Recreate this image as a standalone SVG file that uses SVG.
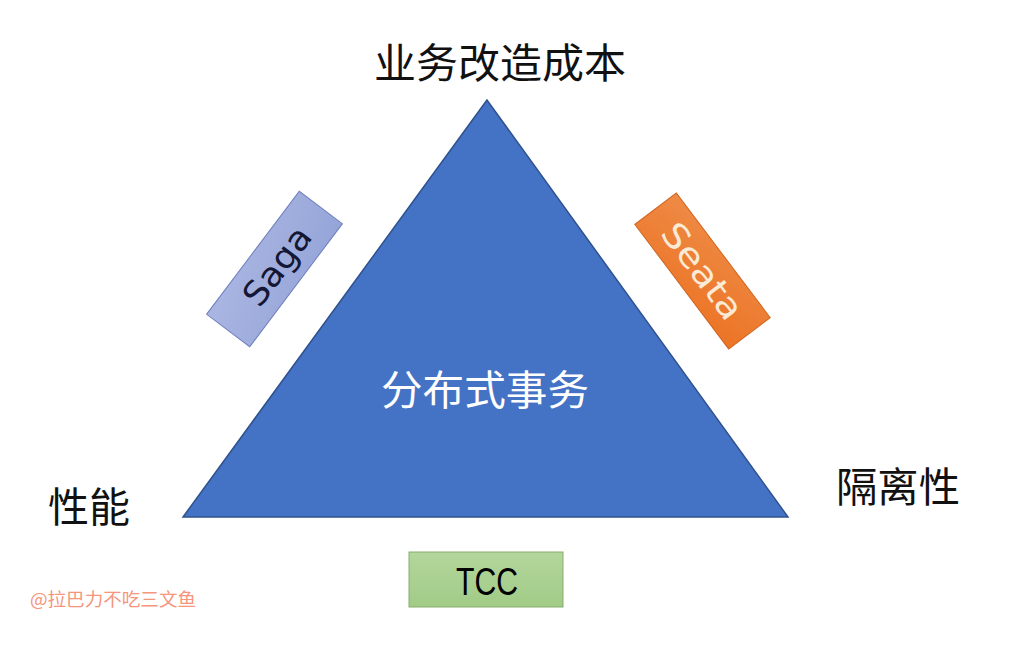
<svg xmlns="http://www.w3.org/2000/svg" width="1031" height="651" viewBox="0 0 1031 651">
<defs>
<linearGradient id="gSaga" x1="0" y1="0" x2="1" y2="1"><stop offset="0" stop-color="#aab6e2"/><stop offset="1" stop-color="#95a5d8"/></linearGradient>
<linearGradient id="gSeata" x1="0" y1="0" x2="1" y2="1"><stop offset="0" stop-color="#ee8a45"/><stop offset="1" stop-color="#ec7425"/></linearGradient>
<linearGradient id="gTcc" x1="0" y1="0" x2="0" y2="1"><stop offset="0" stop-color="#b3d69c"/><stop offset="1" stop-color="#a1cb86"/></linearGradient>
<style>
.lbl{font-family:"Noto Sans CJK SC","Noto Sans",sans-serif;font-size:41px;fill:#111;}
.mid{font-family:"Noto Sans CJK SC","Noto Sans",sans-serif;font-size:41px;fill:#ffffff;}
.tag{font-family:"DejaVu Sans","Liberation Sans",sans-serif;font-size:34px;}
</style>
</defs>
<rect width="1031" height="651" fill="#ffffff"/>
<g id="triangle">
<polygon points="487,100 183,517 788,517" fill="#4472c4" stroke="#2f528f" stroke-width="1.5"/>
<text class="mid" x="485" y="405" text-anchor="middle" textLength="208" lengthAdjust="spacingAndGlyphs">分布式事务</text>
</g>
<g id="label-top"><text class="lbl" x="500" y="78" text-anchor="middle" textLength="252" lengthAdjust="spacingAndGlyphs">业务改造成本</text></g>
<g id="label-left"><text class="lbl" x="89" y="522" text-anchor="middle">性能</text></g>
<g id="label-right"><text class="lbl" x="898" y="502" text-anchor="middle" textLength="124" lengthAdjust="spacingAndGlyphs">隔离性</text></g>
<g id="saga" transform="translate(274.5,269) rotate(-53)">
<rect x="-77" y="-27" width="154" height="54" fill="url(#gSaga)" stroke="#6d7fbf" stroke-width="1"/>
<text class="tag" x="4" y="12" text-anchor="middle" fill="#141633" textLength="90" lengthAdjust="spacingAndGlyphs">Saga</text>
</g>
<g id="seata" transform="translate(702.5,271) rotate(53)">
<rect x="-78" y="-26" width="156" height="52" fill="url(#gSeata)" stroke="#d0651f" stroke-width="1"/>
<text class="tag" x="0" y="12" text-anchor="middle" fill="#fbead6" textLength="112" lengthAdjust="spacingAndGlyphs">Seata</text>
</g>
<g id="tcc">
<rect x="409" y="552" width="154" height="55" fill="url(#gTcc)" stroke="#88ad6e" stroke-width="1"/>
<text x="487" y="595" text-anchor="middle" font-family="'Liberation Sans',sans-serif" font-size="38" fill="#000" textLength="62" lengthAdjust="spacingAndGlyphs">TCC</text>
</g>
<g id="connectors"/>
<text x="30" y="606" font-family="'Noto Sans CJK SC','Noto Sans',sans-serif" font-size="18" fill="#f4957c" textLength="166" lengthAdjust="spacingAndGlyphs">@拉巴力不吃三文鱼</text>
</svg>
